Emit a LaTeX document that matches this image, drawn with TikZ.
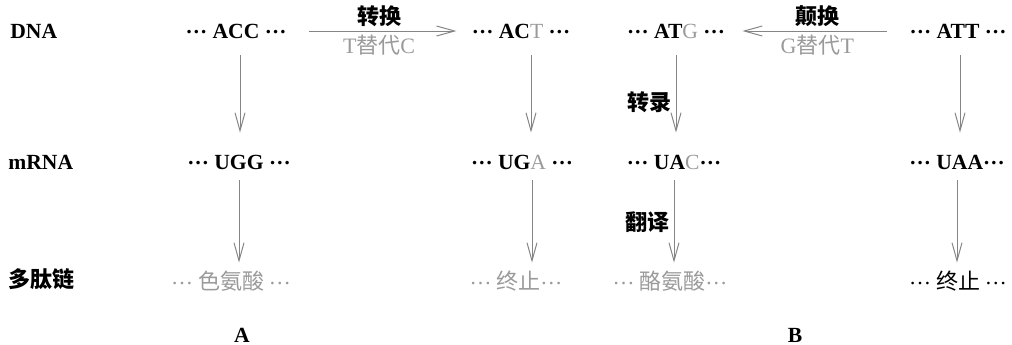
\documentclass[tikz,border=0pt]{standalone}
\usepackage{fontspec}
\setmainfont{Liberation Serif}
\newfontfamily\cjk{Noto Sans CJK SC}
\usetikzlibrary{arrows.meta}
\definecolor{huise}{HTML}{9A9A9A}
\definecolor{jiantou}{HTML}{858585}
\newcommand{\dd}{{\rmfamily\raisebox{0.22em}{…}}}

\begin{document}
\begin{tikzpicture}[x=0.5pt,y=-0.5pt,
  jian/.style={-{Straight Barb[length=9pt,width=5pt]}, draw=jiantou, line width=0.5pt},
  hang/.style={inner sep=0pt, text height=7pt, text depth=0pt},
  ming/.style={hang, font=\bfseries\fontsize{10.8}{13}\selectfont},
  zi/.style={hang, font=\cjk\bfseries\fontsize{11}{13}\selectfont},
  hui/.style={hang, font=\cjk\fontsize{11}{13}\selectfont, text=huise},
  shuo/.style={hang, font=\fontsize{11}{13}\selectfont, text=huise}]
\useasboundingbox (0,0) rectangle (1012,344);
% row names
\node[ming, anchor=west] (dna) at (10,31) {DNA};
\node[ming, anchor=west] (mrna) at (8,162) {mRNA};
\node[zi, anchor=west] (tai) at (8,280) {多肽链};
% A
\node[ming] (acc) at (236,31) {\dd\ ACC \dd};
\node[ming] (ugg) at (239,162) {\dd\ UGG \dd};
\node[hui] (se) at (231,282) {\dd\ 色氨酸 \dd};
\node[ming] (act) at (521,31) {\dd\ AC{\mdseries\color{huise}T} \dd};
\node[ming] (uga) at (522,162) {\dd\ UG{\mdseries\color{huise}A} \dd};
\node[hui] (zz1) at (516,282) {\dd\ 终止\dd};
% B
\node[ming] (atg) at (676,31) {\dd\ AT{\mdseries\color{huise}G} \dd};
\node[ming] (uac) at (674,162) {\dd\ UA{\mdseries\color{huise}C}\dd};
\node[hui] (lao) at (670,282) {\dd\ 酪氨酸\dd};
\node[ming] (att) at (958,31) {\dd\ ATT \dd};
\node[ming] (uaa) at (957,162) {\dd\ UAA\dd};
\node[hang, font=\cjk\fontsize{11}{13}\selectfont] (zz2) at (958,282) {\dd\ 终止 \dd};
\node[ming] (labA) at (242,335) {A};
\node[ming] (labB) at (795,335) {B};
% mutations
\draw[jian, shorten <=11pt, shorten >=7.5pt] (acc.east) -- node[zi, above=3pt] (zh) {转换} node[shuo, below=4pt] (tc) {T{\cjk 替代}C} (act.west);
\draw[jian, shorten <=11pt, shorten >=8.5pt] (att.west) -- node[zi, above=3pt] (dh) {颠换} node[shuo, below=4pt] (gt) {G{\cjk 替代}T} (atg.east);
% transcription and translation
\draw[jian, shorten <=8.5pt, shorten >=11pt] ([xshift=2pt]acc.south) -- ([xshift=2pt]acc.south |- ugg.north);
\draw[jian, shorten <=5.5pt, shorten >=6pt] (ugg.south) -- (ugg.south |- se.north);
\draw[jian, shorten <=8.5pt, shorten >=11pt] ([xshift=5pt]act.south) -- ([xshift=5pt]act.south |- uga.north);
\draw[jian, shorten <=5.5pt, shorten >=6pt] ([xshift=5pt]uga.south) -- ([xshift=5pt]uga.south |- zz1.north);
\draw[jian, shorten <=8.5pt, shorten >=11pt] (atg.south) -- node[zi, left=2pt, pos=0.56] (zl) {转录} (atg.south |- uac.north);
\draw[jian, shorten <=5.5pt, shorten >=6pt] (uac.south) -- node[zi, left=2pt, pos=0.51] (fy) {翻译} (uac.south |- lao.north);
\draw[jian, shorten <=8.5pt, shorten >=11pt] ([xshift=1pt]att.south) -- ([xshift=1pt]att.south |- uaa.north);
\draw[jian, shorten <=5.5pt, shorten >=6pt] (uaa.south) -- (uaa.south |- zz2.north);
\end{tikzpicture}
\end{document}
